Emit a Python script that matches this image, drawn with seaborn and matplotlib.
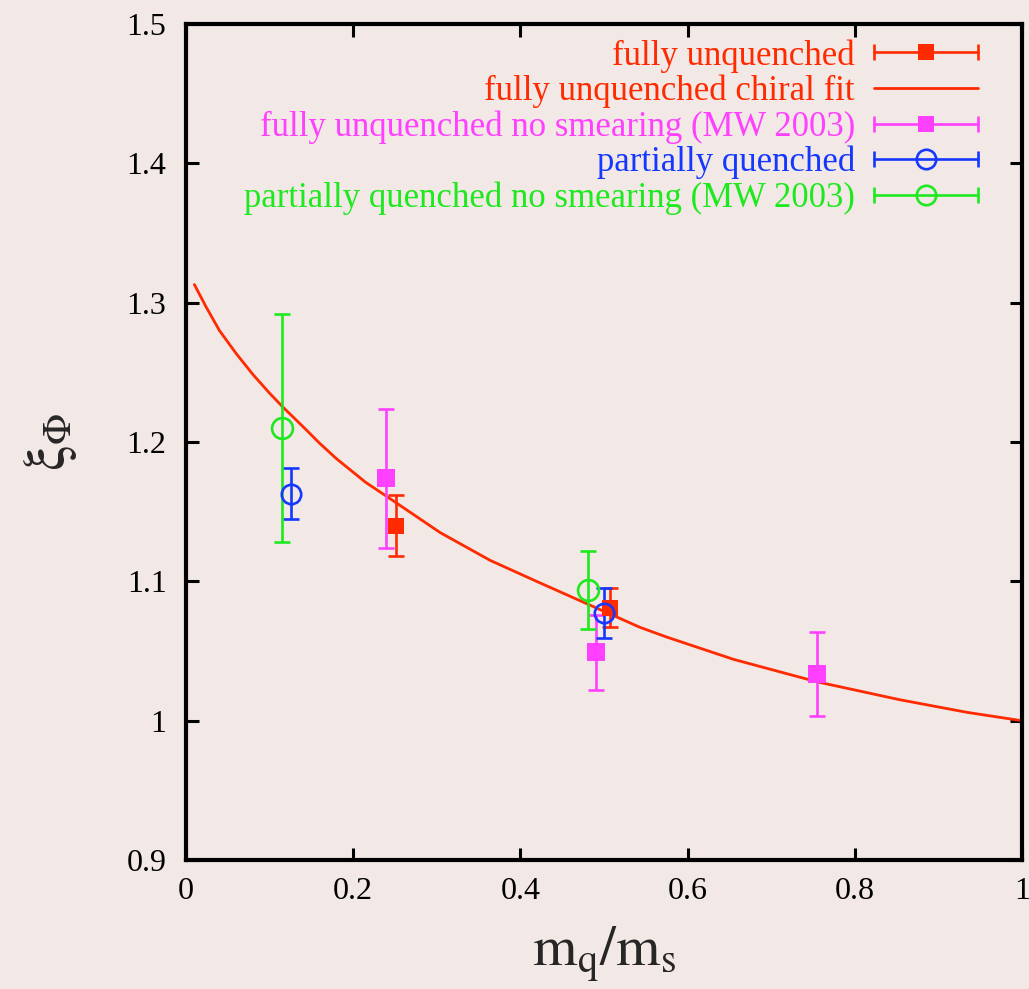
import numpy as np
import pandas as pd
import matplotlib
matplotlib.use("Agg")
import matplotlib.pyplot as plt
import seaborn as sns
from matplotlib.lines import Line2D
from matplotlib.legend_handler import HandlerBase
from matplotlib.ticker import FuncFormatter

# ---------------- data ----------------
fu_x = [0.251, 0.507]
fu_y = [1.140, 1.081]
fu_err = [0.022, 0.014]

nsfu_x = [0.239, 0.490, 0.755]
nsfu_y = [1.174, 1.049, 1.0335]
nsfu_err = [0.050, 0.027, 0.030]

pq_x = [0.126, 0.500]
pq_y = [1.163, 1.077]
pq_err = [0.018, 0.018]

nspq_x = [0.115, 0.481]
nspq_y = [1.210, 1.094]
nspq_err = [0.082, 0.028]

fit_x = [0.010, 0.024, 0.040, 0.060, 0.080, 0.100, 0.116, 0.140, 0.160, 0.180,
         0.215, 0.240, 0.304, 0.364, 0.423, 0.483, 0.543, 0.575, 0.655, 0.754,
         0.854, 0.934, 0.994, 1.000]
fit_y = [1.313, 1.297, 1.280, 1.2635, 1.2485, 1.235, 1.225, 1.211, 1.199, 1.188,
         1.171, 1.161, 1.135, 1.115, 1.099, 1.083, 1.067, 1.060, 1.044, 1.028,
         1.015, 1.006, 1.0005, 1.000]

labels = ["fully unquenched",
          "fully unquenched chiral fit",
          "fully unquenched no smearing (MW 2003)",
          "partially quenched",
          "partially quenched no smearing (MW 2003)"]

x_ticks = [0, 0.2, 0.4, 0.6, 0.8, 1.0]
y_ticks = [0.9, 1.0, 1.1, 1.2, 1.3, 1.4, 1.5]

RED = "#ff2a00"
MAG = "#ff40ff"
BLUE = "#1438ff"
GREEN = "#1ee81e"
BG = "#f2e8e5"

# ---------------- style ----------------
sns.set_theme(style="ticks")
plt.rcParams["font.family"] = ["Liberation Serif", "DejaVu Serif"]
plt.rcParams["mathtext.fontset"] = "stix"

fig = plt.figure(figsize=(10.29, 9.89), dpi=100, facecolor=BG)
ax = fig.add_axes([186 / 1029, 1 - 860 / 989, (1022 - 186) / 1029, (860 - 24) / 989])
ax.set_facecolor(BG)

# fit curve
fit_df = pd.DataFrame({"x": fit_x, "y": fit_y})
sns.lineplot(data=fit_df, x="x", y="y", ax=ax, color=RED, lw=2.0, zorder=2,
             sort=True, estimator=None)

lw_e = 1.9
series = [
    (fu_x, fu_y, fu_err, "s", RED, True, 12),
    (nsfu_x, nsfu_y, nsfu_err, "s", MAG, True, 13),
    (pq_x, pq_y, pq_err, "o", BLUE, False, 14),
    (nspq_x, nspq_y, nspq_err, "o", GREEN, False, 15),
]
for xs, ys, es, m, c, filled, ms in series:
    ax.errorbar(xs, ys, yerr=es, fmt="none", ecolor=c, elinewidth=lw_e,
                capsize=6, capthick=lw_e, zorder=3)
    ax.plot(xs, ys, ls="none", marker=m, ms=ms, color=c,
            mfc=c if filled else "none", mec=c, mew=0 if filled else 1.9, zorder=4)

# ---------------- legend ----------------
class HBar(HandlerBase):
    def create_artists(self, legend, orig, xd, yd, w, h, fs, trans):
        y = h / 2 - yd
        x0, x1 = -xd, w - xd
        c = orig.get_color()
        arts = [Line2D([x0, x1], [y, y], color=c, lw=orig.get_linewidth())]
        if orig.get_marker() not in (None, "None", "", " "):
            arts.append(Line2D([x0, x1], [y, y], ls="", marker="|", ms=12,
                               mew=orig.get_linewidth(), color=c))
            arts.append(Line2D([(x0 + x1) / 2], [y], ls="", marker=orig.get_marker(),
                               ms=orig.get_markersize(), mfc=orig.get_markerfacecolor(),
                               mec=c, mew=orig.get_markeredgewidth()))
        for a in arts:
            a.set_transform(trans)
        return arts


handles = [
    Line2D([], [], color=RED, lw=lw_e, marker="s", ms=12, mfc=RED, mew=0),
    Line2D([], [], color=RED, lw=2.0),
    Line2D([], [], color=MAG, lw=lw_e, marker="s", ms=12, mfc=MAG, mew=0),
    Line2D([], [], color=BLUE, lw=lw_e, marker="o", ms=14, mfc="none", mew=1.9),
    Line2D([], [], color=GREEN, lw=lw_e, marker="o", ms=14, mfc="none", mew=1.9),
]
leg = ax.legend(handles, labels, handler_map={Line2D: HBar()}, loc="upper right",
                bbox_to_anchor=(0.9475, 0.982), frameon=False, markerfirst=False,
                fontsize=25, handlelength=3.0, handletextpad=0.55,
                labelspacing=0.06, borderpad=0, borderaxespad=0)
for t, c in zip(leg.get_texts(), [RED, RED, MAG, BLUE, GREEN]):
    t.set_color(c)

# ---------------- axes ----------------
ax.set_xlim(0, 1)
ax.set_ylim(0.9, 1.5)
ax.set_xticks(x_ticks)
ax.set_yticks(y_ticks)
fmt = FuncFormatter(lambda v, p: "%g" % round(v, 3))
ax.xaxis.set_major_formatter(fmt)
ax.yaxis.set_major_formatter(fmt)
ax.tick_params(direction="in", length=9, width=2.2, top=True, right=True,
               labelsize=23, colors="black")
ax.tick_params(axis="y", pad=14)
ax.tick_params(axis="x", pad=12)
for s in ax.spines.values():
    s.set_linewidth(3.0)
    s.set_color("black")
    s.set_visible(True)

ax.set_xlabel(r"$\mathrm{m_q/m_s}$", fontsize=41, labelpad=14)
ax.set_ylabel(r"$\mathrm{\xi}_\Phi$", fontsize=42, labelpad=34)

fig.savefig("out.png", dpi=100, facecolor=BG)
